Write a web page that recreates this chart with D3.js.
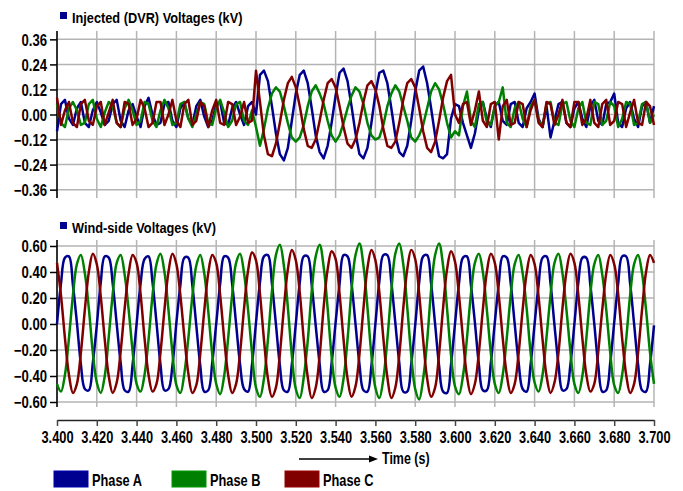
<!DOCTYPE html>
<html>
<head>
<meta charset="utf-8">
<script src="https://cdn.jsdelivr.net/npm/d3@7"></script>
<style>
  body { margin: 0; background: #fff; }
  text { font-family: "Liberation Sans", Arial, sans-serif; font-weight: bold; fill: #000; }
</style>
</head>
<body>
<svg id="chart" width="683" height="491"></svg>
<script>
// sampling grid of the traces (s)
var t0 = 3.4, dt = 0.002;

var timeTicks = [3.400, 3.420, 3.440, 3.460, 3.480, 3.500, 3.520, 3.540,
                 3.560, 3.580, 3.600, 3.620, 3.640, 3.660, 3.680, 3.700];
var injTicks = [-0.36, -0.24, -0.12, 0.00, 0.12, 0.24, 0.36];
var windTicks = [-0.60, -0.40, -0.20, 0.00, 0.20, 0.40, 0.60];

var phaseNames = ["Phase A", "Phase B", "Phase C"];
var phaseColors = ["#000090", "#008000", "#800000"];

// Injected (DVR) voltages, kV, one value every 2 ms from 3.400 s
var injA = [
  -0.08, 0.05, 0.07, -0.02, -0.05, 0.03, 0.06, -0.04, -0.06, 0.02,
  0.06, 0.01, -0.05, -0.03, 0.05, 0.07, -0.03, -0.06, 0.02, 0.05,
  -0.01, -0.06, 0.04, 0.08, 0.00, -0.05, -0.04, 0.05, 0.06, -0.03,
  -0.06, 0.03, 0.06, -0.02, -0.05, 0.04, 0.07, -0.01, -0.06, -0.03,
  0.05, 0.06, -0.04, -0.05, 0.03, 0.06, 0.00, -0.05, 0.04, 0.06,
  0.00, 0.19, 0.21, 0.16, 0.04, -0.09, -0.19, -0.22, -0.16, -0.03,
  0.10, 0.19, 0.21, 0.15, 0.03, -0.10, -0.18, -0.21, -0.15, -0.04,
  0.09, 0.20, 0.22, 0.16, 0.04, -0.09, -0.19, -0.21, -0.16, -0.04,
  0.10, 0.20, 0.21, 0.15, 0.03, -0.10, -0.18, -0.20, -0.15, -0.03,
  0.11, 0.21, 0.23, 0.15, 0.03, -0.10, -0.20, -0.21, -0.19, -0.02,
  0.05,
  0.04, -0.04, -0.10, -0.16, -0.09, 0.02, 0.06, -0.02, -0.06, 0.04,
  0.06, -0.03, -0.05, 0.05, 0.06, -0.04, -0.06, 0.03, 0.06, 0.10,
  -0.02, -0.06, 0.04, -0.11, -0.03, 0.05, 0.06, -0.04, -0.06, 0.03,
  0.06, -0.02, -0.06, 0.04, 0.07, -0.03, -0.05, 0.05, 0.06, 0.10,
  -0.04, -0.06, 0.03, 0.06, -0.02, -0.06, 0.04, 0.06, -0.04, 0.04
];
var injB = [
  0.05, -0.04, -0.06, 0.03, 0.06, 0.02, -0.05, -0.04, 0.05, 0.07,
  -0.02, -0.06, 0.01, 0.06, 0.04, -0.04, -0.06, 0.03, 0.07, 0.02,
  -0.05, -0.03, 0.06, 0.05, -0.03, -0.06, 0.02, 0.07, 0.03, -0.05,
  -0.04, 0.05, 0.06, -0.02, -0.06, 0.00, 0.06, 0.05, -0.04, -0.05,
  0.03, 0.07, 0.01, -0.06, -0.03, 0.05, 0.06, -0.03, -0.05, 0.02,
  -0.06, -0.15, -0.07, 0.03, 0.10, 0.13, 0.11, 0.04, -0.04, -0.11,
  -0.13, -0.11, -0.05, 0.04, 0.11, 0.14, 0.10, 0.05, -0.03, -0.10,
  -0.13, -0.10, -0.04, 0.03, 0.09, 0.13, 0.11, 0.05, -0.04, -0.10,
  -0.12, -0.11, -0.05, 0.04, 0.10, 0.14, 0.11, 0.04, -0.03, -0.11,
  -0.13, -0.10, -0.05, 0.03, 0.11, 0.15, 0.12, 0.05, -0.04, -0.11,
  -0.08,
  -0.10, 0.04, 0.11, -0.03, -0.06, 0.05, 0.06, -0.04, -0.05, 0.04,
  0.06, 0.13, -0.04, -0.06, 0.03, 0.06, -0.02, -0.06, 0.04, 0.07,
  -0.03, -0.06, 0.05, 0.06, -0.04, -0.05, 0.05, 0.06, -0.03, -0.06,
  0.03, 0.06, -0.04, -0.05, 0.06, 0.05, -0.05, -0.03, 0.06, 0.04,
  -0.06, -0.02, 0.06, 0.05, -0.05, -0.04, 0.05, 0.06, -0.04, 0.00
];
var injC = [
  0.08, -0.05, 0.02, 0.06, -0.04, -0.06, 0.05, 0.07, -0.03, -0.05,
  0.04, 0.06, -0.05, 0.01, 0.07, -0.04, -0.06, 0.06, 0.05, -0.05,
  -0.02, 0.07, 0.03, -0.06, -0.04, 0.06, 0.06, -0.05, 0.00, 0.07,
  -0.03, -0.06, 0.05, 0.07, -0.05, -0.03, 0.06, 0.04, -0.06, 0.02,
  0.07, -0.04, -0.05, 0.06, 0.05, -0.05, -0.01, 0.06, -0.04, -0.03,
  0.21, 0.06, -0.10, -0.19, -0.20, -0.14, -0.04, 0.07, 0.15, 0.18,
  0.13, 0.04, -0.07, -0.15, -0.16, -0.12, -0.03, 0.07, 0.15, 0.17,
  0.13, 0.04, -0.06, -0.14, -0.16, -0.12, -0.04, 0.06, 0.14, 0.16,
  0.12, 0.04, -0.07, -0.15, -0.16, -0.13, -0.04, 0.07, 0.15, 0.17,
  0.13, 0.03, -0.08, -0.16, -0.18, -0.13, -0.03, 0.08, 0.16, 0.19,
  0.00,
  -0.04, 0.05, 0.06, -0.05, 0.02, 0.11, -0.03, -0.06, 0.05, 0.06,
  -0.12, 0.04, 0.07, -0.05, -0.04, 0.06, 0.05, -0.06, 0.02, 0.07,
  -0.04, -0.06, 0.06, 0.05, -0.05, 0.00, 0.07, -0.04, -0.06, 0.06,
  0.06, -0.05, -0.02, 0.07, -0.04, -0.06, 0.05, 0.07, -0.05, -0.03,
  0.06, 0.05, -0.06, 0.01, 0.07, -0.04, -0.05, 0.06, 0.04, -0.05
];

// Wind-side voltages, kV, same grid
var windA = [
  0.00, 0.31, 0.51, 0.52, 0.30, 0.01, -0.31, -0.50, -0.51, -0.30,
  -0.01, 0.32, 0.52, 0.51, 0.31, 0.00, -0.30, -0.51, -0.52, -0.31,
  0.00, 0.31, 0.50, 0.52, 0.32, 0.01, -0.31, -0.51, -0.50, -0.32,
  0.01, 0.30, 0.51, 0.51, 0.30, -0.01, -0.32, -0.52, -0.51, -0.30,
  0.00, 0.31, 0.52, 0.51, 0.31, 0.00, -0.31, -0.50, -0.52, -0.31,
  0.01, 0.32, 0.52, 0.53, 0.31, 0.00, -0.32, -0.51, -0.52, -0.31,
  0.00, 0.32, 0.52, 0.52, 0.30, -0.01, -0.31, -0.52, -0.51, -0.30,
  0.01, 0.31, 0.53, 0.52, 0.31, 0.00, -0.31, -0.51, -0.52, -0.32,
  0.00, 0.33, 0.53, 0.53, 0.32, 0.01, -0.30, -0.52, -0.52, -0.31,
  -0.01, 0.32, 0.52, 0.53, 0.31, 0.00, -0.32, -0.52, -0.53, -0.31,
  0.00, 0.31, 0.51, 0.52, 0.30, 0.01, -0.31, -0.51, -0.51, -0.30,
  0.01, 0.31, 0.52, 0.51, 0.31, 0.00, -0.30, -0.50, -0.52, -0.31,
  0.00, 0.30, 0.51, 0.52, 0.31, -0.01, -0.31, -0.51, -0.50, -0.31,
  0.00, 0.32, 0.51, 0.51, 0.30, 0.00, -0.32, -0.52, -0.51, -0.30,
  0.01, 0.31, 0.52, 0.52, 0.31, 0.00, -0.31, -0.51, -0.52, -0.31,
  -0.01
];
var windB = [
  -0.46, -0.52, -0.39, -0.11, 0.22, 0.46, 0.53, 0.39, 0.12, -0.22,
  -0.45, -0.53, -0.40, -0.10, 0.23, 0.47, 0.53, 0.38, 0.11, -0.21,
  -0.46, -0.52, -0.39, -0.12, 0.22, 0.46, 0.54, 0.40, 0.11, -0.22,
  -0.47, -0.53, -0.38, -0.11, 0.21, 0.45, 0.53, 0.39, 0.10, -0.23,
  -0.46, -0.54, -0.40, -0.11, 0.22, 0.47, 0.54, 0.39, 0.11, -0.22,
  -0.49, -0.56, -0.42, -0.12, 0.25, 0.53, 0.61, 0.45, 0.13, -0.24,
  -0.50, -0.57, -0.41, -0.13, 0.25, 0.52, 0.61, 0.44, 0.12, -0.25,
  -0.49, -0.56, -0.42, -0.12, 0.26, 0.53, 0.62, 0.45, 0.13, -0.24,
  -0.49, -0.57, -0.42, -0.12, 0.25, 0.54, 0.62, 0.46, 0.13, -0.24,
  -0.50, -0.58, -0.42, -0.13, 0.26, 0.53, 0.62, 0.45, 0.12, -0.24,
  -0.48, -0.54, -0.40, -0.11, 0.23, 0.47, 0.54, 0.40, 0.11, -0.22,
  -0.46, -0.53, -0.39, -0.11, 0.22, 0.46, 0.53, 0.39, 0.12, -0.22,
  -0.45, -0.52, -0.39, -0.10, 0.22, 0.47, 0.54, 0.39, 0.11, -0.21,
  -0.46, -0.53, -0.40, -0.11, 0.23, 0.46, 0.53, 0.38, 0.11, -0.22,
  -0.47, -0.53, -0.39, -0.12, 0.22, 0.46, 0.53, 0.39, 0.11, -0.22,
  -0.46
];
var windC = [
  0.47, 0.22, -0.11, -0.39, -0.53, -0.46, -0.22, 0.11, 0.40, 0.54,
  0.46, 0.21, -0.12, -0.40, -0.53, -0.45, -0.21, 0.12, 0.39, 0.53,
  0.47, 0.23, -0.11, -0.39, -0.52, -0.46, -0.22, 0.11, 0.40, 0.54,
  0.46, 0.22, -0.10, -0.38, -0.53, -0.47, -0.23, 0.10, 0.39, 0.53,
  0.47, 0.22, -0.11, -0.39, -0.53, -0.46, -0.22, 0.12, 0.41, 0.55,
  0.49, 0.23, -0.12, -0.42, -0.56, -0.49, -0.23, 0.12, 0.42, 0.57,
  0.49, 0.24, -0.12, -0.41, -0.57, -0.49, -0.24, 0.13, 0.42, 0.56,
  0.50, 0.23, -0.12, -0.42, -0.56, -0.48, -0.23, 0.12, 0.43, 0.57,
  0.49, 0.24, -0.11, -0.41, -0.57, -0.49, -0.24, 0.12, 0.42, 0.57,
  0.50, 0.23, -0.12, -0.42, -0.56, -0.49, -0.23, 0.12, 0.42, 0.56,
  0.48, 0.22, -0.11, -0.40, -0.54, -0.46, -0.22, 0.11, 0.40, 0.54,
  0.47, 0.22, -0.11, -0.39, -0.53, -0.46, -0.22, 0.11, 0.39, 0.53,
  0.46, 0.21, -0.12, -0.40, -0.53, -0.45, -0.22, 0.12, 0.40, 0.54,
  0.47, 0.22, -0.11, -0.39, -0.52, -0.46, -0.21, 0.11, 0.39, 0.53,
  0.46, 0.23, -0.11, -0.39, -0.53, -0.46, -0.22, 0.11, 0.40, 0.53,
  0.47
];

var svg = d3.select("#chart");
var left = 57, right = 654;

var x = d3.scaleLinear().domain([3.4, 3.7]).range([left, right]);
var yTop = d3.scaleLinear().domain([-0.4, 0.4]).range([198, 31]);
var yBot = d3.scaleLinear().domain([-0.6, 0.646]).range([402, 240]);

// narrow bold text (the original uses a condensed face)
function label(g, px, py, str, size, sx, anchor) {
  return g.append("text")
    .attr("transform", "translate(" + px + "," + py + ") scale(" + sx + ",1)")
    .attr("text-anchor", anchor || "start")
    .style("font-size", size + "px")
    .text(str);
}

function panel(y, ticks, series, title, titleY, curve) {
  var g = svg.append("g");
  var top = y.range()[1], bottom = y.range()[0];
  var gridBottom = y === yBot ? bottom + 5 : bottom;

  // grid
  g.selectAll(".vg").data(timeTicks).enter().append("line")
    .attr("x1", function (d) { return x(d); })
    .attr("x2", function (d) { return x(d); })
    .attr("y1", top).attr("y2", gridBottom)
    .attr("stroke", "#b4b4b4").attr("stroke-width", 1.5);
  g.selectAll(".hg").data(ticks).enter().append("line")
    .attr("x1", left).attr("x2", right)
    .attr("y1", function (d) { return y(d); })
    .attr("y2", function (d) { return y(d); })
    .attr("stroke", "#b4b4b4").attr("stroke-width", 1.5);

  // y axis
  var ax = g.append("g").attr("transform", "translate(" + left + ",0)")
    .call(d3.axisLeft(y).tickValues(ticks).tickSize(7).tickSizeOuter(0)
      .tickFormat(d3.format(".2f")));
  ax.select(".domain").remove();
  ax.selectAll("line").attr("stroke", "#000").attr("stroke-width", 1.5);
  ax.selectAll("text")
    .attr("x", -10 / 0.82).attr("dy", "0.36em")
    .attr("transform", "scale(0.82,1)")
    .style("font-size", "16px")
    .style("font-family", "'Liberation Sans', Arial, sans-serif")
    .style("font-weight", "bold")
    .attr("fill", "#000");
  g.append("line").attr("x1", left).attr("x2", left)
    .attr("y1", top).attr("y2", gridBottom)
    .attr("stroke", "#000").attr("stroke-width", 1.5);

  // traces
  var line = d3.line()
    .x(function (d, i) { return x(t0 + i * dt); })
    .y(function (d) { return y(d); })
    .curve(curve);
  series.forEach(function (s, k) {
    g.append("path").datum(s)
      .attr("d", line)
      .attr("fill", "none")
      .attr("stroke", phaseColors[k])
      .attr("stroke-width", 2.5)
      .attr("stroke-linejoin", "round");
  });

  // title
  g.append("rect").attr("x", 60).attr("y", titleY - 11).attr("width", 7).attr("height", 7)
    .attr("fill", phaseColors[0]);
  label(g, 72, titleY, title, 14.5, 0.88);
}

panel(yTop, injTicks, [injA, injB, injC], "Injected (DVR) Voltages (kV)", 23, d3.curveLinear);
panel(yBot, windTicks, [windA, windB, windC], "Wind-side Voltages (kV)", 233, d3.curveCatmullRom.alpha(0.5));

// time axis
var xa = svg.append("g").attr("transform", "translate(0,420)")
  .call(d3.axisBottom(x).tickValues(timeTicks).tickSize(6).tickSizeOuter(0)
    .tickPadding(6).tickFormat(d3.format(".3f")));
xa.select(".domain").attr("stroke", "#222").attr("stroke-width", 1.5);
xa.selectAll("line").attr("stroke", "#444").attr("stroke-width", 1.5);
xa.selectAll("text")
  .attr("transform", "scale(0.8,1)")
  .style("font-size", "16px")
  .style("font-family", "'Liberation Sans', Arial, sans-serif")
  .style("font-weight", "bold")
  .attr("fill", "#000");

// "Time (s)" with arrow
svg.append("line").attr("x1", 299).attr("x2", 371).attr("y1", 459).attr("y2", 459)
  .attr("stroke", "#000").attr("stroke-width", 1.5);
svg.append("path").attr("d", "M369,455.5 L378,459 L369,462.5 Z").attr("fill", "#000");
label(svg, 382, 464, "Time (s)", 16, 0.78);

// legend
var legX = [54, 172, 285];
phaseNames.forEach(function (n, k) {
  svg.append("rect").attr("x", legX[k]).attr("y", 471).attr("width", 34).attr("height", 16)
    .attr("fill", phaseColors[k])
    .attr("stroke", d3.color(phaseColors[k]).brighter(0.5)).attr("stroke-width", 1);
  label(svg, legX[k] + 38, 486, n, 16, 0.8);
});
</script>
</body>
</html>
